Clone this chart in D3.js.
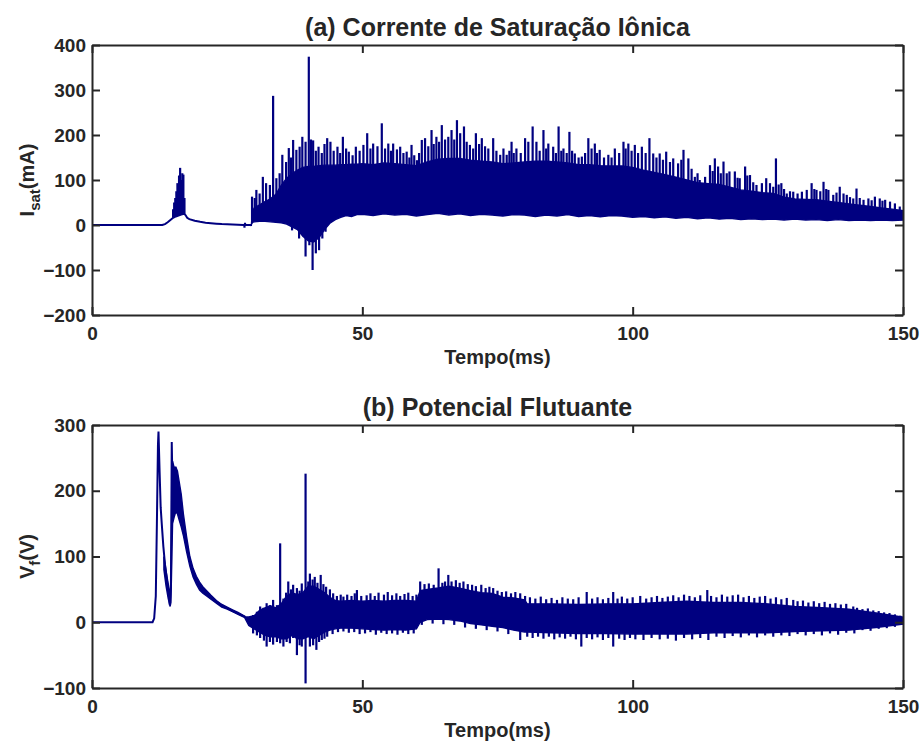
<!DOCTYPE html>
<html>
<head>
<meta charset="utf-8">
<script src="https://cdn.jsdelivr.net/npm/d3@7"></script>
<style>
  body { margin: 0; background: #fff; }
  text { font-family: "Liberation Sans", Arial, sans-serif; font-weight: bold; fill: #262626; }
</style>
</head>
<body>
<svg id="chart" width="920" height="746"></svg>
<script>
// tick values
const timeTicks = [0, 50, 100, 150];
const isatTicks = [-200, -100, 0, 100, 200, 300, 400];
const vfTicks = [-100, 0, 100, 200, 300];

// (a) Isat: smooth part [t(ms), mA]
const isatLine = [[0,0],[13,0],[13.5,2],[14,6],[14.5,11],[15,16],[15.5,19],[16,21],[16.5,23],[17,25],[17.3,22],[17.6,16],[18,13],[19,9.5],[20,7],[21,5],[22,4],[23,3],[24,2],[25,1.5],[26,1],[27,0.5],[28,0],[29.6,0]];
// (a) dense band [t, top, bottom]
const isatBand = [[29.5,4,2],[29.7,30,6],[30,38,7],[31,45,8],[32,52,8],[33,58,7],[34,68,6],[35,88,5],[36,104,2],[37,114,-4],[38,122,-10],[39,128,-25],[40,130,-35],[41,130,-38],[42,132,-28],[43,133,-10],[44,133,4],[45,133,12],[46,134,17],[47,134,21],[48,135,19],[49,135,23],[50,136,24],[52,134,21],[54,138,25],[56,136,22],[58,134,24],[60,132,20],[62,140,23],[64,146,26],[66,148,22],[68,148,25],[70,144,21],[72,142,24],[74,140,22],[76,136,20],[78,138,23],[80,140,22],[82,142,19],[84,142,22],[86,140,20],[88,138,23],[90,134,19],[92,134,21],[94,132,18],[96,131,21],[98,131,20],[100,128,17],[102,122,19],[104,117,16],[106,112,18],[108,106,15],[110,100,17],[112,94,14],[114,92,16],[116,90,13],[118,84,15],[120,78,12],[122,75,14],[124,72,12],[126,70,13],[128,62,11],[130,58,13],[132,57,11],[134,56,12],[136,53,10],[138,50,12],[140,47,10],[142,44,11],[144,41,10],[146,38,11],[148,35,10],[150,32,11]];
// (a) spikes [t, mA]
const isatSpikes = [[15.0,35],[15.2,50],[15.4,60],[15.6,75],[15.8,93],[16.0,85],[16.1,110],[16.3,127],[16.5,100],[16.7,115],[16.9,112],[17.1,60],[28.2,-6],[28.3,5],
[29.6,63],[30.1,60],[30.4,78],[31.0,70],[31.6,107],[32.2,93],[32.9,89],[33.5,287],[34.1,104],[34.7,115],[35.2,156],[35.9,140],[36.4,171],[36.8,150],[37.2,189],[37.8,167],[38.4,174],[38.9,196],[39.5,185],[40.1,374],[40.5,190],[40.9,188],[41.4,165],[41.9,174],[42.5,160],[43.0,180],[43.5,193],[44.1,185],[44.7,165],[45.4,174],[45.9,160],[46.4,196],[47.0,170],[47.5,163],[48.2,155],[48.8,174],[49.5,165],
[50.2,178],[50.9,204],[51.5,170],[52.0,181],[52.8,175],[53.6,226],[54.2,170],[54.8,181],[55.3,165],[55.7,181],[56.4,168],[57.0,174],[57.6,160],[58.2,163],[58.7,150],[59.1,178],[59.6,155],[60.1,144],[60.5,160],[61.0,189],[61.6,193],[62.2,175],[62.8,211],[63.2,180],[63.7,196],[64.2,185],[64.7,222],[65.3,190],[65.9,196],[66.5,211],[67.0,190],[67.5,233],[68.1,204],[68.8,219],[69.3,185],[69.9,178],
[70.5,170],[71.0,204],[71.6,180],[72.1,193],[72.7,175],[73.3,170],[74.2,193],[74.8,165],[75.5,156],[76.1,170],[76.7,156],[77.2,165],[77.6,185],[78.0,160],[78.5,170],[79.3,160],[80.1,193],[80.7,185],[81.5,219],[82.2,185],[82.8,165],[83.5,211],[84.0,170],[84.4,181],[85.3,174],[85.8,160],[86.3,219],[86.8,165],[87.2,170],[87.8,160],[88.3,207],[88.8,165],[89.3,159],[90.0,150],[90.6,152],[91.2,160],[91.8,193],[92.4,170],[93.0,181],[93.4,160],[93.9,167],[94.7,150],[95.5,156],[96.1,150],[96.7,170],[97.5,160],[98.3,185],[98.7,170],[99.2,181],[99.8,165],
[100.4,178],[101.0,160],[101.7,174],[102.4,160],[103.1,193],[103.8,159],[104.4,150],[105.0,159],[105.6,145],[106.2,163],[106.9,140],[107.5,148],[108.4,137],[109.0,145],[109.4,167],[110.3,148],[110.9,125],[111.5,107],[112.0,115],[112.4,100],[113.4,107],[114.3,133],[114.8,120],[115.2,148],[115.8,130],[116.3,115],[116.8,141],[117.4,115],[117.9,119],[118.9,119],[119.4,105],[119.8,104],[120.8,130],[121.2,110],[121.7,111],[122.3,95],[122.9,89],[123.9,93],[124.7,104],[125.4,93],[126.0,85],[126.5,148],[127.0,90],[127.5,93],[128.0,80],[128.5,70],[129.1,75],[129.7,74],
[130.5,70],[131.3,74],[132.2,78],[133.1,93],[133.6,80],[134.0,78],[134.7,75],[135.3,96],[135.8,80],[136.2,78],[137.1,67],[137.7,72],[138.3,85],[139.0,70],[139.6,67],[140.2,62],[140.8,59],[141.4,81],[142.0,60],[142.7,56],[143.6,59],[144.2,55],[144.8,63],[145.7,59],[146.2,54],[146.7,56],[147.6,52],[148.5,48],[149.4,41],
[37.0,-12],[38.3,-30],[39.5,-70],[40.2,-45],[40.8,-100],[41.4,-63],[42.0,-56],[42.6,-30],[43.2,-15]];

// (b) Vf: smooth part [t(ms), V]
const vfLine = [[0,0],[11.2,0],[11.5,6],[11.8,40],[12.0,150],[12.2,270],[12.3,290],[12.5,230],[12.7,175],[12.9,150],[13.2,115],[13.5,88],[13.8,68],[14.1,50],[14.4,26],[14.6,60],[14.75,274],[14.9,200],[15.1,185],[15.4,236],[15.8,200],[16.3,175],[16.9,148],[17.5,118],[18.1,92],[18.7,75],[19.3,64],[19.9,55],[21.2,44],[23,31],[24.9,22],[26,17],[27.4,12],[28.3,8]];
// (b) bands [t, top, bottom]
const vfBandDecay = [[13.3,100,80],[13.7,78,55],[14.1,58,36],[14.45,40,24],[14.6,60,30],[14.9,245,150],[15.2,235,160],[15.5,236,168],[15.8,230,165],[16.1,215,156],[16.5,195,145],[16.9,165,132],[17.5,130,107],[18.1,100,85],[18.7,82,69],[19.3,70,58],[19.9,61,49],[20.5,54,44],[21.2,48,40],[22,41,35],[23,33,29],[24,27,23],[25,23,20],[26,19,16],[27,15,12],[28.3,9,7]];
const vfBand = [[28.3,8,6],[29,8,-5],[30,10,-10],[31,18,-15],[32,22,-20],[33,25,-22],[34,22,-22],[35,28,-25],[36,40,-25],[37,45,-20],[38,42,-25],[39,45,-25],[40,55,-22],[41,55,-25],[42,50,-20],[43,45,-15],[44,38,-12],[45,33,-10],[46,32,-9],[48,33,-9],[50,32,-10],[52,33,-11],[54,32,-12],[56,33,-11],[58,33,-12],[60,32,-10],[60.7,48,0],[62,50,4],[64,52,5],[66,55,4],[68,52,2],[70,48,-2],[72,45,-4],[74,44,-6],[76,38,-8],[78,37,-12],[80,34,-15],[80.5,28,-15],[85,28,-16],[90,27,-17],[95,28,-17],[100,28,-18],[105,30,-18],[110,32,-18],[115,30,-16],[120,30,-16],[125,28,-16],[130,24,-14],[135,22,-13],[140,20,-12],[145,14,-8],[150,8,-3]];
// (b) spikes [t, V]
const vfSpikes = [[28.8,6],[29.8,11],[30.5,16],[31.1,24],[31.7,22],[32.3,29],[32.9,26],[33.5,34],[34.2,26],[34.8,120],[35.4,36],[35.9,45],[36.3,62],[36.8,50],[37.2,57],[37.9,52],[38.4,48],[38.8,59],[39.5,226],[40.0,62],[40.3,74],[40.8,65],[41.2,69],[41.7,60],[42.3,72],[42.8,58],[43.3,54],[44.0,50],[44.6,44],[45.3,40],[46.0,42],[46.5,39],[47.2,42],[48.0,40],[48.6,44],[49.0,49],[49.8,40],
[50.8,41],[51.5,44],[52.3,40],[53.0,45],[54.0,42],[54.7,46],[55.5,41],[56.3,44],[57.0,40],[57.8,43],[58.5,45],[59.3,40],[60.0,42],[60.7,62],[61.5,58],[62.3,59],[63.2,57],[64.1,82],[64.8,60],[65.3,62],[65.9,72],[66.5,62],[67.3,64],[68.0,60],[68.7,62],[69.5,58],[70.3,57],[71.0,55],[72.0,57],[72.8,52],[73.5,54],[74.2,52],[75.0,48],[75.8,46],[76.6,47],[77.5,44],[78.3,46],[79.2,44],
[80.1,40],[81.0,38],[82.0,36],[83.0,39],[84.0,35],[85.0,37],[86.0,34],[87.0,38],[88.0,36],[89.0,35],[90.0,38],[91.5,46],[92.5,36],[93.5,38],[94.5,35],[95.5,37],[96.4,46],[97.2,36],[98.0,39],[99.0,36],[100.0,38],[101.4,40],[102.5,36],[103.5,38],[104.5,40],[105.5,37],[106.5,39],[107.5,41],[108.5,38],[109.5,42],[110.5,40],[111.5,38],[112.5,41],[113.8,49],[114.5,40],[115.5,38],[116.5,42],[117.5,39],[118.5,41],[119.5,42],
[120.5,38],[121.5,40],[122.5,37],[123.5,39],[124.5,40],[125.5,36],[126.5,38],[127.5,35],[128.5,37],[129.7,34],[130.5,32],[131.5,33],[132.5,30],[133.5,32],[134.5,29],[135.5,31],[136.5,28],[137.5,29],[138.5,27],[139.5,28],[140.8,24],[141.5,22],[142.5,20],[143.5,21],[144.5,18],[145.5,17],[146.5,15],[147.5,14],[148.5,12],[149.5,10],
[29.8,-17],[30.5,-20],[31.1,-24],[31.8,-28],[32.3,-37],[32.9,-30],[33.5,-34],[34.2,-30],[34.8,-32],[35.4,-37],[36.0,-30],[36.6,-32],[37.2,-24],[37.9,-50],[38.4,-35],[38.8,-37],[39.5,-93],[40.3,-37],[40.9,-35],[41.5,-42],[42.0,-30],[42.5,-27],[43.0,-25],[43.5,-22],[44.5,-18],[45.5,-15],[46.5,-14],[47.5,-16],[48.5,-15],[49.5,-18],[50.5,-17],[51.5,-15],[52.5,-19],[53.5,-16],[54.5,-18],[55.5,-17],[56.5,-19],[57.5,-16],[58.5,-18],[59.5,-17],
[61,-4],[63,-2],[65,-3],[67,-4],[69,-8],[71,-10],[73,-12],[75,-14],[77,-18],[79.2,-27],[80.5,-22],[81.5,-24],[82.5,-22],[83.5,-25],[84.5,-22],[85.5,-26],[86.5,-23],[87.5,-25],[88.5,-22],[89.5,-26],[90.5,-37],[91.5,-24],[92.5,-26],[93.5,-23],[94.5,-27],[95.5,-24],[96.4,-37],[97.5,-25],[98.5,-27],[99.5,-24],[100.5,-26],[102,-27],[103.5,-24],[105,-26],[106.5,-25],[108,-28],[109.5,-24],[111,-26],[112.5,-24],[114,-27],[115.5,-22],[117,-24],[118.5,-21],[120,-23],[121.5,-20],[123,-23],[124.5,-20],[126,-22],[127.5,-20],[129,-21],[130.5,-18],[132,-20],[133.5,-18],[135,-20],[136.5,-17],[138,-19],[139.5,-16],[141,-17],[142.5,-12],[144,-13],[145.5,-10],[147,-9],[148.5,-7],[149.8,-4]];

const navy = "#000080";
const ink = "#262626";
const svg = d3.select("#chart");

const x = d3.scaleLinear().domain([0, 150]).range([92, 903]);

// value at t along [t, v] rows, linear
function interp(rows, t, col) {
  const i = d3.bisector((d) => d[0]).left(rows, t);
  if (i <= 0) return rows[0][col];
  if (i >= rows.length) return rows[rows.length - 1][col];
  const a = rows[i - 1], b = rows[i];
  const f = (t - a[0]) / (b[0] - a[0]);
  return a[col] + f * (b[col] - a[col]);
}

function drawPanel(p) {
  const y = d3.scaleLinear().domain(p.domain).range([p.bottom, p.top]);
  const g = svg.append("g");

  // base level for spikes: middle of band, or the smooth line
  const baseAt = (t) => {
    for (const b of p.bands) {
      if (t >= b[0][0] && t <= b[b.length - 1][0]) return (interp(b, t, 1) + interp(b, t, 2)) / 2;
    }
    return interp(p.line, t, 1);
  };

  const area = d3.area().x((d) => x(d[0])).y0((d) => y(d[2])).y1((d) => y(d[1]));
  p.bands.forEach((b) => {
    g.append("path").datum(b).attr("d", area)
      .attr("fill", navy).attr("stroke", navy).attr("stroke-width", 1.4);
  });

  const line = d3.line().x((d) => x(d[0])).y((d) => y(d[1]));
  g.append("path").datum(p.line).attr("d", line)
    .attr("fill", "none").attr("stroke", navy).attr("stroke-width", 2);

  g.selectAll(".spike").data(p.spikes).join("line")
    .attr("x1", (d) => x(d[0])).attr("x2", (d) => x(d[0]))
    .attr("y1", (d) => y(baseAt(d[0]))).attr("y2", (d) => y(d[1]))
    .attr("stroke", navy).attr("stroke-width", 2.2);

  // axes, MATLAB style box with inward ticks
  const axes = [
    [d3.axisBottom(x).tickValues(timeTicks).tickPadding(12), `translate(0,${p.bottom})`],
    [d3.axisTop(x).tickValues(timeTicks).tickFormat(""), `translate(0,${p.top})`],
    [d3.axisLeft(y).tickValues(p.ticks).tickPadding(6), `translate(92,0)`],
    [d3.axisRight(y).tickValues(p.ticks).tickFormat(""), `translate(903,0)`],
  ];
  axes.forEach(([ax, tr]) => {
    const a = g.append("g").attr("transform", tr)
      .call(ax.tickSizeInner(-8).tickSizeOuter(0));
    a.select(".domain").attr("stroke", ink).attr("stroke-width", 2);
    a.selectAll(".tick line").attr("stroke", ink).attr("stroke-width", 2);
    a.selectAll(".tick text").attr("fill", ink).style("font-size", "19px")
      .style("font-family", "'Liberation Sans', Arial, sans-serif").style("font-weight", "bold");
  });

  g.append("text").attr("x", 497.5).attr("y", p.top - 9)
    .attr("text-anchor", "middle").style("font-size", "25px").text(p.title);

  g.append("text").attr("x", 497.5).attr("y", p.bottom + 49)
    .attr("text-anchor", "middle").style("font-size", "20px").text("Tempo(ms)");

  const yl = g.append("text")
    .attr("transform", `translate(34,${(p.top + p.bottom) / 2}) rotate(-90)`)
    .attr("text-anchor", "middle").style("font-size", "20px");
  yl.append("tspan").text(p.ylab[0]);
  yl.append("tspan").attr("dy", 6).style("font-size", "15px").text(p.ylab[1]);
  yl.append("tspan").attr("dy", -6).text(p.ylab[2]);
}

drawPanel({
  top: 45, bottom: 315, domain: [-200, 400], ticks: isatTicks,
  line: isatLine, bands: [isatBand], spikes: isatSpikes,
  title: "(a) Corrente de Saturação Iônica", ylab: ["I", "sat", "(mA)"],
});

drawPanel({
  top: 425, bottom: 688, domain: [-100, 300], ticks: vfTicks,
  line: vfLine, bands: [vfBandDecay, vfBand], spikes: vfSpikes,
  title: "(b) Potencial Flutuante", ylab: ["V", "f", "(V)"],
});
</script>
</body>
</html>
